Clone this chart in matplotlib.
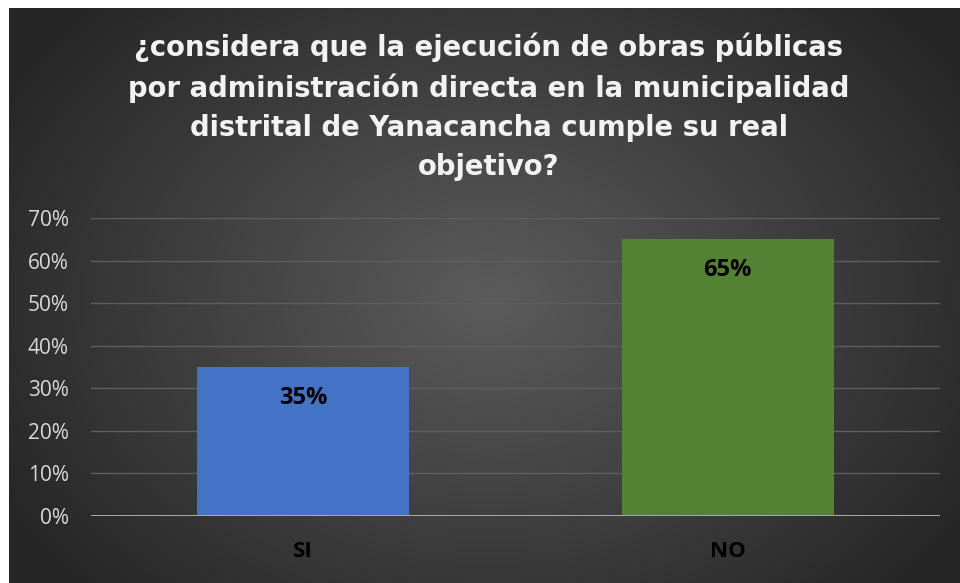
import numpy as np
import matplotlib
matplotlib.use("Agg")
import matplotlib.pyplot as plt
from matplotlib.ticker import PercentFormatter

categories = ["SI", "NO"]
values = [0.35, 0.65]
bar_colors = ["#4472C4", "#548235"]
value_labels = ["35%", "65%"]
title = ("¿considera que la ejecución de obras públicas\n"
         "por administración directa en la municipalidad\n"
         "distrital de Yanacancha cumple su real\n"
         "objetivo?")

plt.rcParams['font.family'] = ['Open Sans', 'DejaVu Sans']

fig = plt.figure(figsize=(9.6, 5.83), dpi=100)
fig.patch.set_facecolor("white")

# fondo con degradado radial
bg = fig.add_axes([9 / 960, 0, 951 / 960, 575 / 583], zorder=-10)
yy, xx = np.mgrid[0:575, 0:951]
r = np.sqrt(((xx - 480) / 560.0) ** 2 + ((yy - 290) / 420.0) ** 2)
r = np.clip(r, 0, 1)
shade = 0.36 - 0.21 * r
bg.imshow(np.dstack([shade, shade, shade]), aspect="auto", interpolation="bilinear")
bg.axis("off")

ax = fig.add_axes([91 / 960, 67 / 583, 849 / 960, 298 / 583])
ax.set_facecolor("none")

x = np.arange(len(categories))
bars = ax.bar(x, values, width=0.5, color=bar_colors, zorder=3)

for b, lab in zip(bars, value_labels):
    ax.text(b.get_x() + b.get_width() / 2, b.get_height() - 0.072, lab,
            ha="center", va="center", fontsize=17, fontweight="bold",
            color="black", zorder=4)

ax.set_xlim(-0.5, 1.5)
ax.set_ylim(0, 0.70)
ax.set_yticks(np.arange(0, 0.71, 0.10))
ax.yaxis.set_major_formatter(PercentFormatter(1.0, decimals=0))
ax.grid(axis="y", color="#5e5e5e", linewidth=1.0, zorder=0)
ax.axhline(0, color="#a6a6a6", linewidth=2.2, zorder=5)

for s in ax.spines.values():
    s.set_visible(False)

ax.tick_params(axis="y", length=0, labelsize=15, labelcolor="#d9d9d9", pad=16)
ax.tick_params(axis="x", length=0, labelsize=16, labelcolor="black", pad=18)
ax.set_xticks(x)
ax.set_xticklabels(categories, fontweight="bold")

fig.text(489 / 960, 1 - 107 / 583, title, ha="center", va="center",
         fontsize=19.8, fontweight="bold", color="#f2f2f2", linespacing=1.5,
         family=["DejaVu Sans"])

fig.savefig("out.png", dpi=100)
